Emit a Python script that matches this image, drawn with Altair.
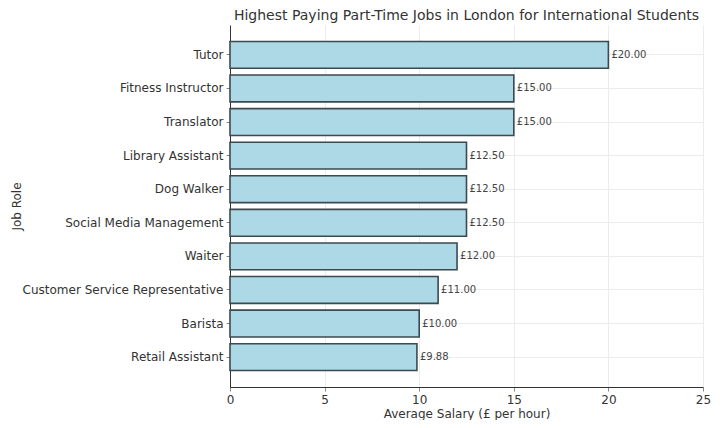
import altair as alt
import pandas as pd

jobs = ["Tutor", "Fitness Instructor", "Translator", "Library Assistant", "Dog Walker",
        "Social Media Management", "Waiter", "Customer Service Representative",
        "Barista", "Retail Assistant"]
salaries = [20.00, 15.00, 15.00, 12.50, 12.50, 12.50, 12.00, 11.00, 10.00, 9.88]
labels = ["£%.2f" % s for s in salaries]

df = pd.DataFrame({"job": jobs, "salary": salaries, "label": labels})

FONT = "DejaVu Sans"

y_enc = alt.Y("job:N", sort=None,
              scale=alt.Scale(paddingInner=0.2, paddingOuter=0.49),
              axis=alt.Axis(title="Job Role", grid=True, gridColor="#ececec",
                            domainColor="#333333", tickColor="#888888", tickSize=4,
                            labelPadding=3, labelFontSize=12, labelColor="#333333",
                            labelLimit=400,
                            titleFontSize=12, titleFontWeight="normal", titleColor="#333333",
                            titleX=-207, titleY=181, titleAngle=270, labelFont=FONT, titleFont=FONT))

x_enc = alt.X("salary:Q",
              scale=alt.Scale(domain=[0, 25], nice=False, zero=True),
              axis=alt.Axis(title="Average Salary (£ per hour)", values=[0, 5, 10, 15, 20, 25],
                            grid=True, gridColor="#ececec", domainColor="#333333",
                            tickColor="#888888", tickSize=4, labelPadding=3, labelFlush=False,
                            labelFontSize=12, labelColor="#333333", titleFontSize=12,
                            titleFontWeight="normal", titleColor="#333333", titlePadding=3,
                            labelFont=FONT, titleFont=FONT))

bars = alt.Chart(df).mark_bar(color="#add8e6", stroke="#3b4a50", strokeWidth=1.6).encode(
    x=x_enc, y=y_enc)

text = alt.Chart(df).mark_text(align="left", baseline="middle", dx=3, fontSize=10,
                               color="#444444", font=FONT).encode(
    x=alt.X("salary:Q"), y=alt.Y("job:N", sort=None), text="label:N")

chart = (bars + text).properties(
    width=473, height=362,
    padding={"left": 222, "top": 17, "right": 9, "bottom": 33},
    autosize=alt.AutoSizeParams(type="none"),
    title=alt.TitleParams("Highest Paying Part-Time Jobs in London for International Students",
                          fontSize=14, font=FONT, fontWeight="normal", color="#333333",
                          anchor="middle", offset=2),
).configure_view(stroke=None)

chart.save("out.html", embed_options={"renderer": "svg", "actions": False})
